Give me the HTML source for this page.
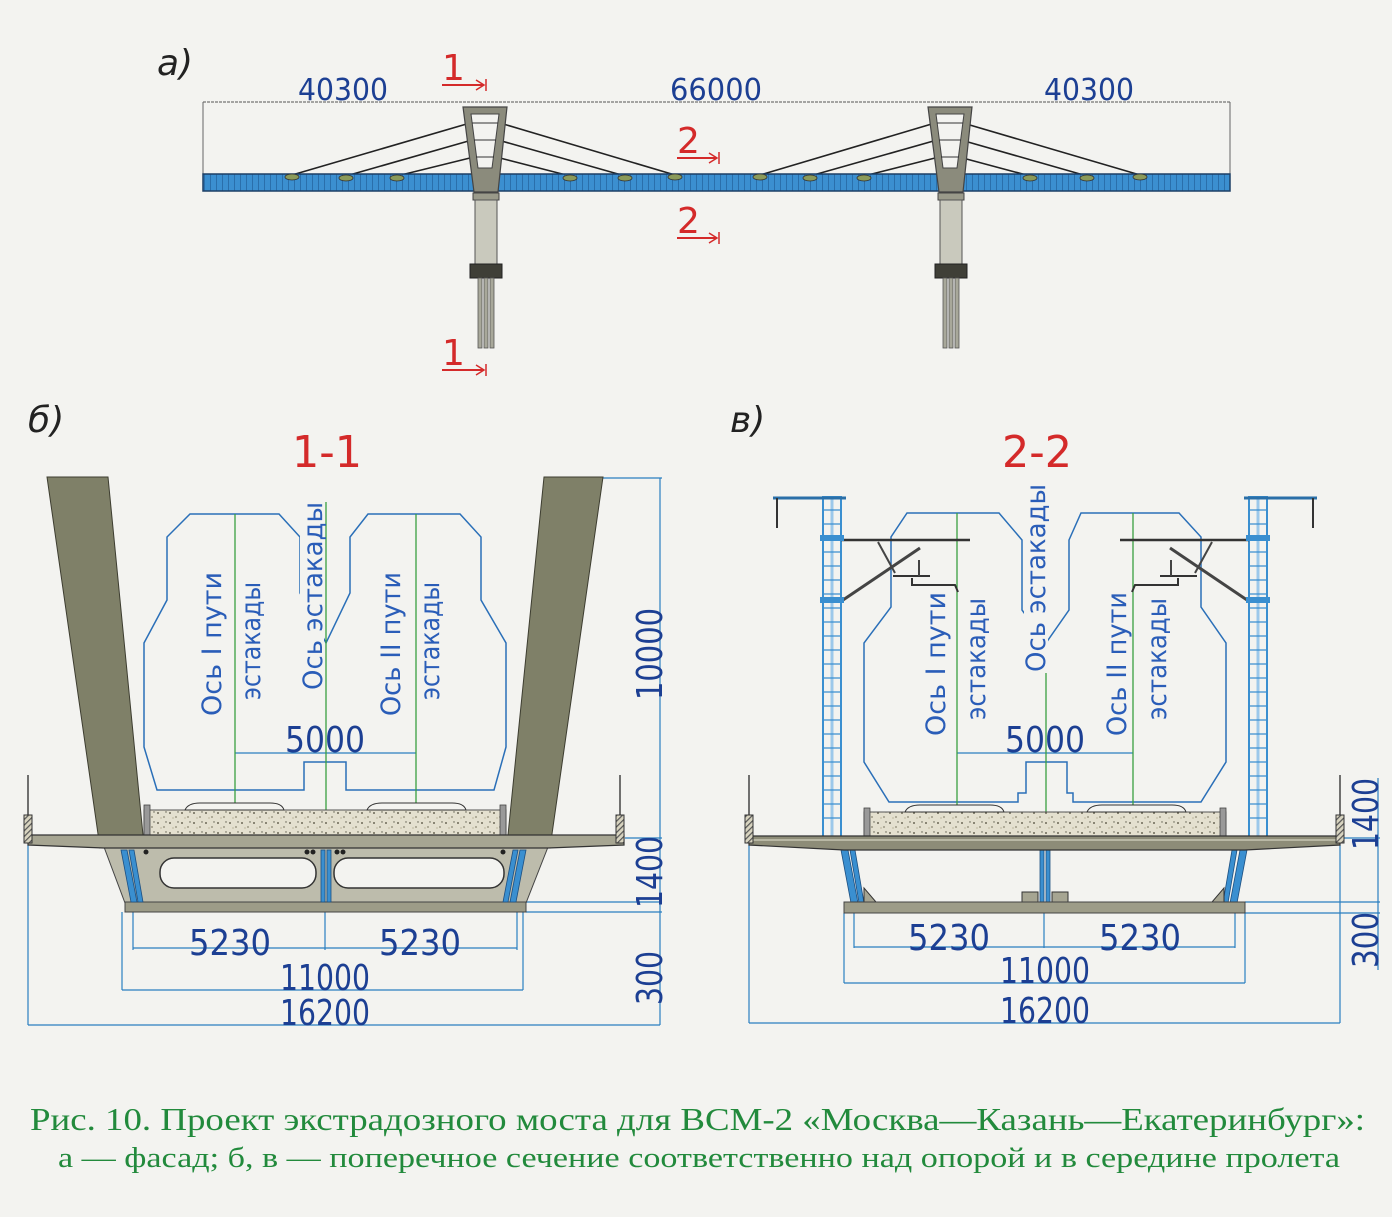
<!DOCTYPE html>
<html><head><meta charset="utf-8"><style>
html,body{margin:0;padding:0;background:#f3f3f0;}
svg{display:block;}
.dim{font-family:"DejaVu Sans","Liberation Sans",sans-serif;fill:#1c3f93;}
.lbl{font-family:"DejaVu Sans","Liberation Sans",sans-serif;fill:#2a5db8;font-size:27px;}
.red{font-family:"DejaVu Sans","Liberation Sans",sans-serif;fill:#d42a2a;}
.cap{font-family:"Liberation Serif","DejaVu Serif",serif;fill:#228a3c;}
</style></head><body>
<svg width="1392" height="1217" viewBox="0 0 1392 1217" xmlns="http://www.w3.org/2000/svg">
<defs>
<pattern id="bal" width="12" height="10" patternUnits="userSpaceOnUse">
<rect width="12" height="10" fill="#e4e0cf"/>
<circle cx="2" cy="3" r="1" fill="#6d6a58"/><circle cx="8" cy="7" r="0.9" fill="#8a8570"/><circle cx="10" cy="2" r="0.7" fill="#5b5a4a"/><circle cx="5" cy="8" r="0.6" fill="#a39c7c"/>
</pattern>
<pattern id="deckp" width="6" height="18" patternUnits="userSpaceOnUse">
<rect width="6" height="18" fill="#3b8fd0"/><rect x="0" width="1" height="18" fill="#2a6fab"/>
</pattern>
<pattern id="hatch" width="4" height="4" patternUnits="userSpaceOnUse" patternTransform="rotate(45)">
<rect width="4" height="4" fill="#d8d4c0"/><rect width="1.2" height="4" fill="#555"/>
</pattern>
</defs>

<!-- ===== a) facade ===== -->
<text x="157" y="75" class="dim" font-size="36" font-style="italic" fill="#222" style="fill:#222">а)</text>
<line x1="203" y1="102" x2="1230" y2="102" stroke="#555" stroke-width="1" stroke-dasharray="3,1"/>
<line x1="203" y1="102" x2="203" y2="178" stroke="#666" stroke-width="1"/>
<line x1="1230" y1="102" x2="1230" y2="178" stroke="#666" stroke-width="1"/>
<text x="298" y="100" class="dim" font-size="30" textLength="90" lengthAdjust="spacingAndGlyphs">40300</text>
<text x="670" y="100" class="dim" font-size="30" textLength="92" lengthAdjust="spacingAndGlyphs">66000</text>
<text x="1044" y="100" class="dim" font-size="30" textLength="90" lengthAdjust="spacingAndGlyphs">40300</text>

<!-- cables -->
<g stroke="#222" stroke-width="1.6">
<line x1="470" y1="123" x2="292" y2="175"/><line x1="472" y1="140" x2="346" y2="176"/><line x1="474" y1="157" x2="397" y2="176"/>
<line x1="500" y1="123" x2="675" y2="175"/><line x1="498" y1="140" x2="625" y2="176"/><line x1="496" y1="157" x2="570" y2="176"/>
<line x1="935" y1="123" x2="760" y2="175"/><line x1="937" y1="140" x2="810" y2="176"/><line x1="939" y1="157" x2="864" y2="176"/>
<line x1="963" y1="123" x2="1140" y2="175"/><line x1="961" y1="140" x2="1087" y2="176"/><line x1="959" y1="157" x2="1030" y2="176"/>
</g>
<!-- deck -->
<rect x="203" y="174" width="1027" height="17" fill="url(#deckp)" stroke="#1d3f66" stroke-width="1.5"/>
<g fill="#8a9a5a" stroke="#333" stroke-width="0.8">
<ellipse cx="292" cy="177" rx="7" ry="3"/><ellipse cx="346" cy="178" rx="7" ry="3"/><ellipse cx="397" cy="178" rx="7" ry="3"/>
<ellipse cx="570" cy="178" rx="7" ry="3"/><ellipse cx="625" cy="178" rx="7" ry="3"/><ellipse cx="675" cy="177" rx="7" ry="3"/>
<ellipse cx="760" cy="177" rx="7" ry="3"/><ellipse cx="810" cy="178" rx="7" ry="3"/><ellipse cx="864" cy="178" rx="7" ry="3"/>
<ellipse cx="1030" cy="178" rx="7" ry="3"/><ellipse cx="1087" cy="178" rx="7" ry="3"/><ellipse cx="1140" cy="177" rx="7" ry="3"/>
</g>
<!-- pylons -->
<g id="py1">
<polygon points="463,107 507,107 498,192 474,192" fill="#8b8b7c" stroke="#444" stroke-width="1.2"/>
<polygon points="471,114 499,114 492,168 478,168" fill="#f3f3f0" stroke="#444" stroke-width="1"/>
<line x1="472" y1="123" x2="498" y2="123" stroke="#333"/><line x1="474" y1="140" x2="496" y2="140" stroke="#333"/><line x1="476" y1="157" x2="494" y2="157" stroke="#333"/>
<rect x="473" y="193" width="26" height="7" fill="#9a9a8a" stroke="#444"/>
<rect x="475" y="200" width="22" height="64" fill="#c9c9bd" stroke="#555"/>
<rect x="470" y="264" width="32" height="14" fill="#3f3f37" stroke="#222"/>
<rect x="478" y="278" width="4" height="70" fill="#a8a89a" stroke="#555" stroke-width="0.8"/>
<rect x="484" y="278" width="4" height="70" fill="#a8a89a" stroke="#555" stroke-width="0.8"/>
<rect x="490" y="278" width="4" height="70" fill="#a8a89a" stroke="#555" stroke-width="0.8"/>
</g>
<use href="#py1" transform="translate(465,0)"/>
<!-- red section marks -->
<text x="442" y="80" class="red" font-size="36">1</text><line x1="442" y1="85" x2="484" y2="85" stroke="#d42a2a" stroke-width="2"/><path d="M476,80 L484,85 L476,90 M486,79 L486,91" stroke="#d42a2a" fill="none" stroke-width="1.5"/>
<text x="677" y="153" class="red" font-size="36">2</text><line x1="677" y1="158" x2="717" y2="158" stroke="#d42a2a" stroke-width="2"/><path d="M709,153 L717,158 L709,163 M719,152 L719,164" stroke="#d42a2a" fill="none" stroke-width="1.5"/>
<text x="677" y="233" class="red" font-size="36">2</text><line x1="677" y1="238" x2="717" y2="238" stroke="#d42a2a" stroke-width="2"/><path d="M709,233 L717,238 L709,243 M719,232 L719,244" stroke="#d42a2a" fill="none" stroke-width="1.5"/>
<text x="442" y="365" class="red" font-size="36">1</text><line x1="442" y1="370" x2="484" y2="370" stroke="#d42a2a" stroke-width="2"/><path d="M476,365 L484,370 L476,375 M486,364 L486,376" stroke="#d42a2a" fill="none" stroke-width="1.5"/>

<!-- ===== б) section 1-1 ===== -->
<text x="28" y="432" font-size="36" font-style="italic" style="fill:#222;font-family:'DejaVu Sans',sans-serif">б)</text>
<text x="292" y="467" class="red" font-size="44" textLength="70" lengthAdjust="spacingAndGlyphs">1-1</text>
<!-- dims right -->
<g stroke="#2a7fc0" stroke-width="1.2" fill="none">
<line x1="603" y1="478" x2="662" y2="478"/>
<line x1="660" y1="478" x2="660" y2="1025"/>
<line x1="625" y1="838" x2="662" y2="838"/>
<line x1="526" y1="902" x2="662" y2="902"/>
<line x1="526" y1="912" x2="662" y2="912"/>
<line x1="28" y1="1025" x2="660" y2="1025"/>
<line x1="28" y1="845" x2="28" y2="1025"/>
<line x1="122" y1="912" x2="122" y2="990"/><line x1="523" y1="912" x2="523" y2="990"/>
<line x1="122" y1="990" x2="523" y2="990"/>
<line x1="133" y1="912" x2="133" y2="950"/><line x1="517" y1="912" x2="517" y2="950"/><line x1="325" y1="900" x2="325" y2="950"/>
<line x1="133" y1="948" x2="517" y2="948"/>
<line x1="235" y1="753" x2="416" y2="753"/>
</g>
<text x="189" y="955" class="dim" font-size="36" textLength="82" lengthAdjust="spacingAndGlyphs">5230</text>
<text x="379" y="955" class="dim" font-size="36" textLength="82" lengthAdjust="spacingAndGlyphs">5230</text>
<text x="280" y="990" class="dim" font-size="36" textLength="90" lengthAdjust="spacingAndGlyphs">11000</text>
<text x="280" y="1025" class="dim" font-size="36" textLength="90" lengthAdjust="spacingAndGlyphs">16200</text>
<text x="285" y="752" class="dim" font-size="36" textLength="80" lengthAdjust="spacingAndGlyphs">5000</text>
<text transform="translate(662,700) rotate(-90)" class="dim" font-size="36" textLength="92" lengthAdjust="spacingAndGlyphs">10000</text>
<text transform="translate(662,908) rotate(-90)" class="dim" font-size="36" textLength="72" lengthAdjust="spacingAndGlyphs">1400</text>
<text transform="translate(662,1005) rotate(-90)" class="dim" font-size="36" textLength="54" lengthAdjust="spacingAndGlyphs">300</text>

<!-- envelope б -->
<path d="M190,514 L279,514 L300,537 L300,593 L326,643 L350,593 L350,537 L368,514 L460,514 L481,537 L481,600 L506,643 L506,747 L494,790 L346,790 L346,762 L304,762 L304,790 L157,790 L144,747 L144,643 L167,600 L167,537 Z" fill="none" stroke="#2a6fb8" stroke-width="1.5"/>
<g stroke="#3aa040" stroke-width="1.3">
<line x1="235" y1="514" x2="235" y2="810"/><line x1="326" y1="502" x2="326" y2="810"/><line x1="416" y1="514" x2="416" y2="810"/>
</g>
<g fill="#f3f3f0"><rect x="200" y="568" width="24" height="152"/><rect x="238" y="582" width="26" height="120"/><rect x="300" y="500" width="24" height="192"/><rect x="379" y="568" width="24" height="152"/><rect x="418" y="582" width="26" height="120"/></g>
<text transform="translate(221,716) rotate(-90)" class="lbl" textLength="144" lengthAdjust="spacingAndGlyphs">Ось I пути</text>
<text transform="translate(260,700) rotate(-90)" class="lbl" textLength="118" lengthAdjust="spacingAndGlyphs">эстакады</text>
<text transform="translate(322,690) rotate(-90)" class="lbl" textLength="188" lengthAdjust="spacingAndGlyphs">Ось эстакады</text>
<text transform="translate(400,716) rotate(-90)" class="lbl" textLength="144" lengthAdjust="spacingAndGlyphs">Ось II пути</text>
<text transform="translate(439,700) rotate(-90)" class="lbl" textLength="118" lengthAdjust="spacingAndGlyphs">эстакады</text>

<!-- structure б -->
<polygon points="47,477 108,477 143,835 100,848" fill="#7f8068" stroke="#3d3d30" stroke-width="1"/>
<polygon points="544,477 603,477 550,848 508,835" fill="#7f8068" stroke="#3d3d30" stroke-width="1"/>
<polygon points="104,847 548,847 526,903 125,903" fill="#bdbcac" stroke="#444" stroke-width="1"/>
<rect x="125" y="902" width="401" height="10" fill="#9d9c88" stroke="#444" stroke-width="1"/>
<rect x="160" y="858" width="156" height="30" rx="14" fill="#f3f3f0" stroke="#333" stroke-width="1.5"/>
<rect x="334" y="858" width="170" height="30" rx="14" fill="#f3f3f0" stroke="#333" stroke-width="1.5"/>
<g fill="#3a8fd0" stroke="#1d4f80" stroke-width="0.8">
<polygon points="121,850 127,850 137,902 131,902"/><polygon points="129,850 134,850 143,902 138,902"/>
<rect x="321" y="850" width="4" height="52"/><rect x="327" y="850" width="4" height="52"/>
<polygon points="520,850 526,850 516,902 510,902"/><polygon points="513,850 518,850 508,902 503,902"/>
</g>
<g fill="#222"><circle cx="146" cy="852" r="2.5"/><circle cx="307" cy="852" r="2.5"/><circle cx="313" cy="852" r="2.5"/><circle cx="337" cy="852" r="2.5"/><circle cx="343" cy="852" r="2.5"/><circle cx="503" cy="852" r="2.5"/></g>
<rect x="144" y="810" width="362" height="25" fill="url(#bal)" stroke="#555" stroke-width="1"/>
<rect x="144" y="805" width="6" height="30" fill="#999" stroke="#444" stroke-width="0.8"/><rect x="500" y="805" width="6" height="30" fill="#999" stroke="#444" stroke-width="0.8"/>
<polygon points="28,835 624,835 624,845 548,848 104,848 28,845" fill="#a6a592" stroke="#333" stroke-width="1.2"/>
<g fill="#f3f3f0" stroke="#333" stroke-width="1"><path d="M185,810 Q188,803 200,803 L270,803 Q282,803 284,810 Z"/><path d="M367,810 Q370,803 382,803 L452,803 Q464,803 466,810 Z"/></g>
<g stroke="#444" stroke-width="1.5"><line x1="28" y1="775" x2="28" y2="815"/><line x1="620" y1="775" x2="620" y2="815"/></g>
<rect x="24" y="815" width="8" height="28" fill="url(#hatch)" stroke="#333"/><rect x="616" y="815" width="8" height="28" fill="url(#hatch)" stroke="#333"/>

<!-- ===== в) section 2-2 ===== -->
<text x="730" y="432" font-size="36" font-style="italic" style="fill:#222;font-family:'DejaVu Sans',sans-serif">в)</text>
<text x="1002" y="467" class="red" font-size="44" textLength="70" lengthAdjust="spacingAndGlyphs">2-2</text>
<g stroke="#2a7fc0" stroke-width="1.2" fill="none">
<line x1="749" y1="845" x2="749" y2="1023"/><line x1="1340" y1="845" x2="1340" y2="1023"/>
<line x1="749" y1="1023" x2="1340" y2="1023"/>
<line x1="844" y1="913" x2="844" y2="983"/><line x1="1245" y1="913" x2="1245" y2="983"/>
<line x1="844" y1="983" x2="1245" y2="983"/>
<line x1="854" y1="913" x2="854" y2="948"/><line x1="1235" y1="913" x2="1235" y2="948"/><line x1="1044" y1="913" x2="1044" y2="948"/>
<line x1="854" y1="947" x2="1235" y2="947"/>
<line x1="1378" y1="778" x2="1378" y2="970"/>
<line x1="1340" y1="838" x2="1380" y2="838"/><line x1="1245" y1="902" x2="1380" y2="902"/><line x1="1245" y1="913" x2="1380" y2="913"/>
<line x1="957" y1="753" x2="1133" y2="753"/>
</g>
<text x="908" y="950" class="dim" font-size="36" textLength="82" lengthAdjust="spacingAndGlyphs">5230</text>
<text x="1099" y="950" class="dim" font-size="36" textLength="82" lengthAdjust="spacingAndGlyphs">5230</text>
<text x="1000" y="983" class="dim" font-size="36" textLength="90" lengthAdjust="spacingAndGlyphs">11000</text>
<text x="1000" y="1023" class="dim" font-size="36" textLength="90" lengthAdjust="spacingAndGlyphs">16200</text>
<text x="1005" y="752" class="dim" font-size="36" textLength="80" lengthAdjust="spacingAndGlyphs">5000</text>
<text transform="translate(1378,850) rotate(-90)" class="dim" font-size="36" textLength="72" lengthAdjust="spacingAndGlyphs">1400</text>
<text transform="translate(1378,968) rotate(-90)" class="dim" font-size="36" textLength="56" lengthAdjust="spacingAndGlyphs">300</text>

<path d="M907,513 L999,513 L1022,540 L1022,610 L1046,643 L1069,610 L1069,540 L1081,513 L1179,513 L1201,537 L1201,607 L1226,643 L1226,762 L1201,802 L1073,802 L1073,793 L1067,793 L1067,762 L1026,762 L1026,793 L1018,793 L1018,802 L889,802 L864,762 L864,643 L891,607 L891,537 Z" fill="none" stroke="#2a6fb8" stroke-width="1.5"/>
<g stroke="#3aa040" stroke-width="1.3">
<line x1="957" y1="513" x2="957" y2="812"/><line x1="1046" y1="495" x2="1046" y2="812"/><line x1="1133" y1="513" x2="1133" y2="812"/>
</g>
<g fill="#f3f3f0"><rect x="924" y="590" width="24" height="148"/><rect x="962" y="592" width="26" height="128"/><rect x="1024" y="485" width="24" height="188"/><rect x="1104" y="590" width="24" height="148"/><rect x="1144" y="592" width="26" height="128"/></g>
<text transform="translate(945,736) rotate(-90)" class="lbl" textLength="144" lengthAdjust="spacingAndGlyphs">Ось I пути</text>
<text transform="translate(985,720) rotate(-90)" class="lbl" textLength="122" lengthAdjust="spacingAndGlyphs">эстакады</text>
<text transform="translate(1045,672) rotate(-90)" class="lbl" textLength="188" lengthAdjust="spacingAndGlyphs">Ось эстакады</text>
<text transform="translate(1126,736) rotate(-90)" class="lbl" textLength="144" lengthAdjust="spacingAndGlyphs">Ось II пути</text>
<text transform="translate(1166,720) rotate(-90)" class="lbl" textLength="122" lengthAdjust="spacingAndGlyphs">эстакады</text>

<!-- masts -->
<g id="mast">
<rect x="823" y="497" width="18" height="340" fill="none" stroke="#3a8fd0" stroke-width="2"/>
<line x1="832" y1="497" x2="832" y2="837" stroke="#9cc8ea" stroke-width="3"/>
<path d="M823,510 h18 M823,524 h18 M823,538 h18 M823,552 h18 M823,566 h18 M823,580 h18 M823,594 h18 M823,608 h18 M823,622 h18 M823,636 h18 M823,650 h18 M823,664 h18 M823,678 h18 M823,692 h18 M823,706 h18 M823,720 h18 M823,734 h18 M823,748 h18 M823,762 h18 M823,776 h18 M823,790 h18 M823,804 h18 M823,818 h18" stroke="#3a8fd0" stroke-width="1.2"/>
<line x1="773" y1="498" x2="846" y2="498" stroke="#2a6fa8" stroke-width="3"/>
<line x1="777" y1="498" x2="777" y2="528" stroke="#333" stroke-width="2"/>
<line x1="841" y1="540" x2="970" y2="540" stroke="#333" stroke-width="2.5"/>
<line x1="843" y1="600" x2="920" y2="548" stroke="#444" stroke-width="3"/>
<line x1="878" y1="542" x2="895" y2="573" stroke="#444" stroke-width="2"/>
<line x1="893" y1="576" x2="930" y2="576" stroke="#333" stroke-width="2"/>
<path d="M912,578 L912,585 L955,585 L958,592" stroke="#333" stroke-width="2" fill="none"/>
<line x1="919" y1="560" x2="919" y2="576" stroke="#444" stroke-width="2"/>
<rect x="820" y="535" width="24" height="6" fill="#3a8fd0"/><rect x="820" y="597" width="24" height="6" fill="#3a8fd0"/>
</g>
<use href="#mast" transform="translate(2090,0) scale(-1,1)"/>

<!-- structure в -->
<polygon points="842,850 1246,850 1236,903 852,903" fill="none"/>
<g fill="#3a8fd0" stroke="#1d4f80" stroke-width="0.8">
<polygon points="841,850 848,850 858,903 851,903"/><polygon points="850,850 855,850 864,903 859,903"/>
<rect x="1040" y="850" width="4" height="52"/><rect x="1046" y="850" width="4" height="52"/>
<polygon points="1240,850 1247,850 1237,903 1230,903"/><polygon points="1232,850 1237,850 1228,903 1223,903"/>
</g>
<g fill="#a6a592" stroke="#333" stroke-width="1"><polygon points="864,888 876,902 864,902"/><rect x="1022" y="892" width="16" height="10"/><rect x="1052" y="892" width="16" height="10"/><polygon points="1224,888 1212,902 1224,902"/></g>
<rect x="844" y="902" width="401" height="11" fill="#9d9c88" stroke="#444" stroke-width="1"/>
<rect x="864" y="812" width="362" height="24" fill="url(#bal)" stroke="#555" stroke-width="1"/>
<rect x="864" y="808" width="6" height="28" fill="#999" stroke="#444" stroke-width="0.8"/><rect x="1220" y="808" width="6" height="28" fill="#999" stroke="#444" stroke-width="0.8"/>
<polygon points="749,836 1340,836 1340,845 1245,850 844,850 749,845" fill="#8d8c78" stroke="#333" stroke-width="1.2"/>
<line x1="752" y1="840" x2="1337" y2="840" stroke="#c8c6b4" stroke-width="1.5"/>
<g fill="#f3f3f0" stroke="#333" stroke-width="1"><path d="M905,812 Q908,805 920,805 L990,805 Q1002,805 1004,812 Z"/><path d="M1087,812 Q1090,805 1102,805 L1172,805 Q1184,805 1186,812 Z"/></g>
<g stroke="#444" stroke-width="1.5"><line x1="749" y1="775" x2="749" y2="815"/><line x1="1340" y1="775" x2="1340" y2="815"/></g>
<rect x="745" y="815" width="8" height="28" fill="url(#hatch)" stroke="#333"/><rect x="1336" y="815" width="8" height="28" fill="url(#hatch)" stroke="#333"/>

<!-- caption -->
<text x="30" y="1130" class="cap" font-size="32" textLength="1335" lengthAdjust="spacingAndGlyphs">Рис. 10. Проект экстрадозного моста для ВСМ-2 «Москва—Казань—Екатеринбург»:</text>
<text x="58" y="1167" class="cap" font-size="28" textLength="1282" lengthAdjust="spacingAndGlyphs">а — фасад; б, в — поперечное сечение соответственно над опорой и в середине пролета</text>
</svg>
</body></html>
